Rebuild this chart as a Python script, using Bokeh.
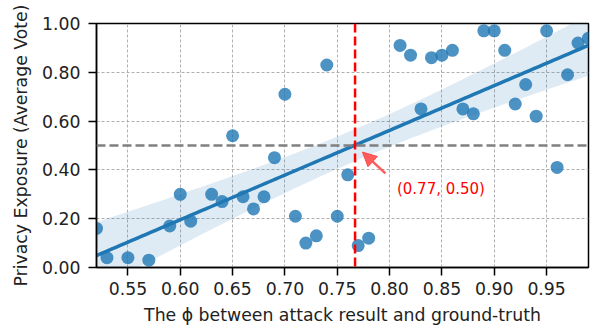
import numpy as np
from bokeh.plotting import figure
from bokeh.models import (Range1d, FixedTicker, NumeralTickFormatter, Span, Arrow,
                          NormalHead, Label)
from bokeh.embed import file_html
from bokeh.resources import INLINE

# ---- data ----
phi = [0.52, 0.53, 0.55, 0.57, 0.59, 0.60, 0.61, 0.63, 0.64, 0.65,
       0.66, 0.67, 0.68, 0.69, 0.70, 0.71, 0.72, 0.73, 0.74, 0.75,
       0.76, 0.77, 0.78, 0.81, 0.82, 0.83, 0.84, 0.85, 0.86, 0.87,
       0.88, 0.89, 0.90, 0.91, 0.92, 0.93, 0.94, 0.95, 0.96, 0.97,
       0.98, 0.99]
exposure = [0.16, 0.04, 0.04, 0.03, 0.17, 0.30, 0.19, 0.30, 0.27, 0.54,
            0.29, 0.24, 0.29, 0.45, 0.71, 0.21, 0.10, 0.13, 0.83, 0.21,
            0.38, 0.09, 0.12, 0.91, 0.87, 0.65, 0.86, 0.87, 0.89, 0.65,
            0.63, 0.97, 0.97, 0.89, 0.67, 0.75, 0.62, 0.97, 0.41, 0.79,
            0.92, 0.94]
x_ticks = [0.55, 0.60, 0.65, 0.70, 0.75, 0.80, 0.85, 0.90, 0.95]
y_ticks = [0.0, 0.2, 0.4, 0.6, 0.8, 1.0]
phi_threshold = 0.767
exposure_threshold = 0.50
annotation_text = "(0.77, 0.50)"

# ---- linear fit with 95% confidence band ----
xa = np.array(phi)
ya = np.array(exposure)
n = len(xa)
slope, intercept = np.polyfit(xa, ya, 1)
xs = np.linspace(xa.min(), xa.max(), 100)
yhat = intercept + slope * xs
resid = ya - (intercept + slope * xa)
s = np.sqrt(np.sum(resid ** 2) / (n - 2))
sxx = np.sum((xa - xa.mean()) ** 2)
t_crit = 2.021
half = t_crit * s * np.sqrt(1.0 / n + (xs - xa.mean()) ** 2 / sxx)

FONT = "DejaVu Sans"
BLUE = "#1f77b4"

p = figure(width=593, height=328, output_backend="svg", toolbar_location=None,
           x_range=Range1d(0.52, 0.99), y_range=Range1d(0.0, 1.0),
           min_border_left=96, min_border_right=5, min_border_top=23,
           min_border_bottom=61)
p.background_fill_color = "white"
p.border_fill_color = "white"
p.outline_line_color = "black"
p.outline_line_width = 1.5
p.outline_line_alpha = 1.0

p.scatter(phi, exposure, size=13, fill_color=BLUE, fill_alpha=0.8, line_color=None)
p.varea(x=xs, y1=yhat - half, y2=yhat + half, fill_color=BLUE, fill_alpha=0.15)
p.line(xs, yhat, line_color=BLUE, line_width=3.5)

p.add_layout(Span(location=exposure_threshold, dimension="width", line_color="gray",
                  line_dash="9 4", line_width=2.5))
p.add_layout(Span(location=phi_threshold, dimension="height", line_color="red",
                  line_dash="9 4", line_width=2.5))

arrow = Arrow(end=NormalHead(size=14, fill_color="#ff4040", fill_alpha=0.85,
                             line_color="#ff4040", line_alpha=0.85),
              x_start=phi_threshold + 0.029, y_start=exposure_threshold - 0.114,
              x_end=phi_threshold + 0.007, y_end=exposure_threshold - 0.027,
              line_color="#ff4040", line_alpha=0.85, line_width=2.5)
p.add_layout(arrow)
p.add_layout(Label(x=phi_threshold + 0.04, y=exposure_threshold - 0.178,
                   text=annotation_text, text_color="red", text_font=FONT,
                   text_font_size="15px", text_baseline="middle", text_align="left"))

for ax in (p.xaxis[0], p.yaxis[0]):
    ax.axis_line_color = "black"
    ax.axis_line_width = 1.5
    ax.major_tick_line_color = "black"
    ax.major_tick_line_width = 1.5
    ax.major_tick_out = 8
    ax.major_tick_in = 0
    ax.minor_tick_line_color = None
    ax.major_label_text_font = FONT
    ax.major_label_text_font_size = "17.3px"
    ax.major_label_text_color = "#222222"
    ax.axis_label_text_font = FONT
    ax.axis_label_text_font_size = "17.3px"
    ax.axis_label_text_font_style = "normal"
    ax.axis_label_text_color = "#222222"
    ax.formatter = NumeralTickFormatter(format="0.00")

p.xaxis.ticker = FixedTicker(ticks=x_ticks)
p.yaxis.ticker = FixedTicker(ticks=y_ticks)
p.xaxis.axis_label = "The ϕ between attack result and ground-truth"
p.yaxis.axis_label = "Privacy Exposure (Average Vote)"
p.xaxis.major_label_standoff = 6
p.yaxis.major_label_standoff = 8
p.xaxis.axis_label_standoff = 7
p.yaxis.axis_label_standoff = 8

p.grid.grid_line_color = "#b0b0b0"
p.grid.grid_line_dash = "3 2"
p.grid.grid_line_width = 1

open("out.html", "w").write(file_html(p, INLINE))
